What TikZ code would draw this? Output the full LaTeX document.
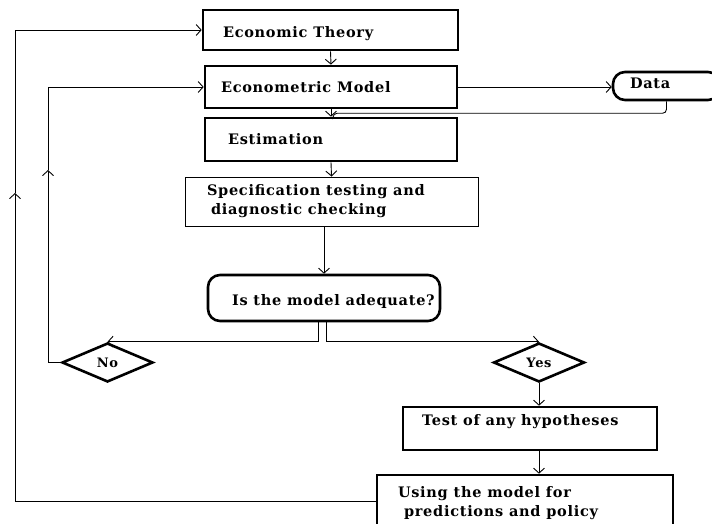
\documentclass[tikz,border=0pt]{standalone}
\usepackage{fontspec}
\setmainfont{DejaVu Serif}[LetterSpace=5]
\usetikzlibrary{shapes.geometric,arrows.meta}
\newcommand{\myleftbox}[4]{\makebox[#1][l]{\hspace*{#2}\raisebox{#3}[0pt][0pt]{#4}}}
\begin{document}
\begin{tikzpicture}[x=1pt,y=-1pt,
  txt/.style={font=\fontsize{14.5}{19}\selectfont\bfseries},
  thickbox/.style={draw, line width=2.6pt, rectangle, inner sep=0pt, txt},
  thinbox/.style={draw, line width=0.9pt, rectangle, inner sep=0pt, txt},
  roundbox/.style={thickbox, rounded corners=12pt},
  decision/.style={draw, line width=2.6pt, diamond, inner sep=0pt, aspect=2.3,
     minimum width=91pt, minimum height=39pt, font=\fontsize{13}{15}\selectfont\bfseries},
  arr/.style={line width=0.9pt, -{Straight Barb[length=5pt,width=11pt]}},
  link/.style={line width=0.9pt},
]
\useasboundingbox (0,0) rectangle (712,524);
\clip (0,0) rectangle (712,524);
\fill[white] (0,0) rectangle (712,524);

\node[thickbox, minimum width=255pt, minimum height=40pt] (et) at (330.5,30)
  {\myleftbox{255pt}{20pt}{-8pt}{Economic Theory}};
\node[thickbox, minimum width=252pt, minimum height=42pt] (em) at (331,87)
  {\myleftbox{252pt}{16pt}{-6pt}{Econometric Model}};
\node[roundbox, minimum width=107pt, minimum height=28pt] (data) at (666.5,86)
  {\myleftbox{107pt}{17pt}{-3pt}{Data}};
\node[thickbox, minimum width=252pt, minimum height=43pt] (est) at (331,139.5)
  {\myleftbox{252pt}{23pt}{-5.5pt}{Estimation}};
\node[thinbox, minimum width=293pt, minimum height=49pt] (spec) at (331.5,201.5)
  {\myleftbox{293pt}{22pt}{6.5pt}{\begin{tabular}[t]{@{}l@{}}Specification testing and\\ \hspace*{4pt}diagnostic checking\end{tabular}}};
\node[roundbox, minimum width=232pt, minimum height=46pt] (adequate) at (324,298)
  {\myleftbox{232pt}{24pt}{-7pt}{Is the model adequate?}};
\node[decision] (no) at (107.5,362.5) {No};
\node[decision] (yes) at (539,362.5) {Yes};
\node[thickbox, minimum width=254pt, minimum height=43pt] (test) at (530,428.5)
  {\myleftbox{254pt}{19pt}{3.5pt}{Test of any hypotheses}};
\node[thickbox, minimum width=296pt, minimum height=53pt] (using) at (525,501.5)
  {\myleftbox{296pt}{21pt}{4.5pt}{\begin{tabular}[t]{@{}l@{}}Using the model for\\ \hspace*{6pt}predictions and policy\end{tabular}}};

\coordinate (sl) at ([xshift=-6pt]adequate.south);
\coordinate (sr) at ([xshift=2pt]adequate.south);
\coordinate (nl) at (48,170);
\coordinate (ul) at (15,193);

\draw[arr] (et.south) -- (em.north);
\draw[arr] (em.south) -- (est.north);
\draw[arr] (em.east) -- (em.east -| data.west);
\draw[link, rounded corners=4pt] (data.south) -- ++(0,12) -| ([xshift=2pt]est.north);
\draw[arr] (est.south) -- (spec.north);
\draw[arr] (adequate.north |- spec.south) -- (adequate.north);
\draw[arr] (sl) |- (no.north);
\draw[arr] (sr) |- (yes.north);
\draw[arr] (no.west) -| (nl);
\draw[arr] (nl) |- (em.west);
\draw[arr] (yes.south) -- (yes.south |- test.north);
\draw[arr] (test.south -| yes.south) -- (using.north -| yes.south);
\draw[arr] (using.west) -| (ul);
\draw[arr] (ul) |- (et.west);
\end{tikzpicture}
\end{document}
